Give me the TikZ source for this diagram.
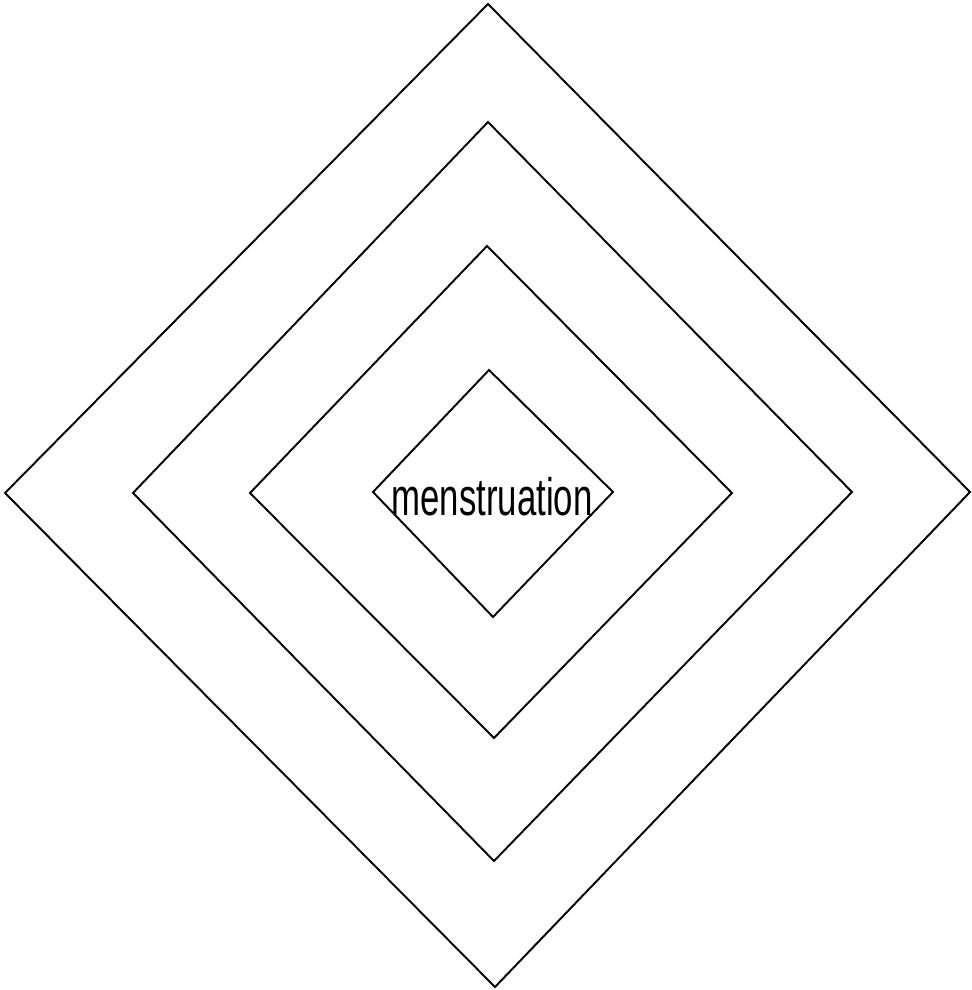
\documentclass[tikz,border=0pt]{standalone}
\usepackage{fontspec}
\newfontfamily\labelfont{Liberation Sans}

\begin{document}
\begin{tikzpicture}[
  x=0.02cm, y=-0.02cm,
  rim/.style={draw, line width=1.1pt, line join=miter},
  lbl/.style={font=\labelfont\fontsize{30}{32}\selectfont, inner sep=0pt, anchor=base}
]
  \useasboundingbox (0,0) rectangle (972,990);

  % nested diamonds, outer to inner
  \draw[rim] (488,4) -- (970,492) -- (495,987) -- (5,493) -- cycle;
  \draw[rim] (488,122) -- (852,492) -- (494,861) -- (133,493) -- cycle;
  \draw[rim] (487,246) -- (732,493) -- (494,738) -- (250,493) -- cycle;
  \draw[rim] (489,370) -- (613,492) -- (493,617) -- (373,492) -- cycle;

  \node[lbl] (core) at (492,515) {\scalebox{0.66}[1]{menstruation}};
\end{tikzpicture}
\end{document}
